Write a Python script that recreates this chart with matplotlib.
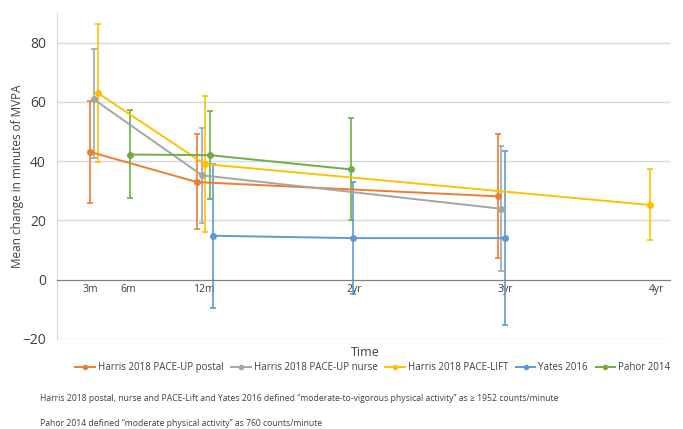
import matplotlib
matplotlib.use("Agg")
import matplotlib.pyplot as plt
from matplotlib.lines import Line2D

plt.rcParams['font.family'] = ['Open Sans', 'DejaVu Sans']

# data (x in months, y in minutes of MVPA)
tick_months = [3, 6, 12, 24, 36, 48]
tick_labels = ["3m", "6m", "12m", "2yr", "3yr", "4yr"]

postal_x = [3.0, 11.5, 35.4]
postal_y = [43.1, 32.9, 28.1]
postal_lo = [26.0, 17.0, 7.2]
postal_hi = [60.2, 49.1, 49.1]

nurse_x = [3.3, 11.9, 35.7]
nurse_y = [60.8, 35.2, 23.9]
nurse_lo = [40.9, 19.0, 2.8]
nurse_hi = [77.9, 51.2, 45.2]

lift_x = [3.6, 12.1, 47.5]
lift_y = [63.0, 39.0, 25.2]
lift_lo = [39.8, 16.1, 13.4]
lift_hi = [86.1, 61.8, 37.2]

yates_x = [12.75, 23.9, 36.0]
yates_y = [14.8, 14.0, 14.0]
yates_lo = [-9.6, -4.7, -15.4]
yates_hi = [39.0, 32.9, 43.5]

pahor_x = [6.2, 12.5, 23.7]
pahor_y = [42.2, 42.0, 37.2]
pahor_lo = [27.5, 27.1, 20.2]
pahor_hi = [57.1, 57.0, 54.6]

series = [
    ("Harris 2018 PACE-UP postal", postal_x, postal_y, postal_lo, postal_hi, "#ED7D31"),
    ("Harris 2018 PACE-UP nurse", nurse_x, nurse_y, nurse_lo, nurse_hi, "#A5A5A5"),
    ("Harris 2018 PACE-LIFT", lift_x, lift_y, lift_lo, lift_hi, "#FFC000"),
    ("Yates 2016", yates_x, yates_y, yates_lo, yates_hi, "#5B9BD5"),
    ("Pahor 2014", pahor_x, pahor_y, pahor_lo, pahor_hi, "#70AD47"),
]

fig = plt.figure(figsize=(6.83, 4.29), dpi=100)
ax = fig.add_axes([0.0835, 0.21, 0.8975, 0.76])

handles = []
for name, x, y, lo, hi, col in series:
    err = [[v - l for v, l in zip(y, lo)], [h - v for v, h in zip(y, hi)]]
    ax.errorbar(x, y, yerr=err, color=col, lw=1.4, marker='o', ms=4,
                elinewidth=1.2, capsize=2, capthick=1.2)
    handles.append(Line2D([], [], color=col, lw=1.4, marker='o', ms=3, label=name))

ax.set_xlim(0.37, 49.1)
ax.set_ylim(-20, 90)
ax.set_yticks([-20, 0, 20, 40, 60, 80])
ax.yaxis.grid(True, color='#D9D9D9', lw=1)
ax.set_axisbelow(True)
ax.set_xticks(tick_months)
ax.set_xticklabels(tick_labels)
ax.tick_params(axis='both', length=0, labelcolor='#404040')
ax.tick_params(axis='y', labelsize=10, pad=8)
ax.tick_params(axis='x', labelsize=7.5, pad=3)

for s in ['top', 'right']:
    ax.spines[s].set_visible(False)
ax.spines['bottom'].set_position(('data', 0))
ax.spines['bottom'].set_color('#7F7F7F')
ax.spines['left'].set_color('#D9D9D9')

ax.set_ylabel("Mean change in minutes of MVPA", fontsize=8.5, color='#404040', labelpad=-1)
fig.text(0.535, 0.178, "Time", ha='center', va='center', fontsize=9, color='#404040')

ax.legend(handles=handles, loc='center', bbox_to_anchor=(0.515, -0.088), ncol=5, frameon=False,
          fontsize=7, handlelength=2.0, handletextpad=0.3, columnspacing=0.8,
          labelcolor='#404040')

fig.text(0.058, 0.07, "Harris 2018 postal, nurse and PACE-Lift and Yates 2016 defined \u201cmoderate-to-vigorous physical activity\u201d as \u2265 1952 counts/minute",
         fontsize=6.2, color='#404040', va='center')
fig.text(0.058, 0.012, "Pahor 2014 defined \u201cmoderate physical activity\u201d as 760 counts/minute",
         fontsize=6.2, color='#404040', va='center')

fig.savefig("out.png", dpi=100)
